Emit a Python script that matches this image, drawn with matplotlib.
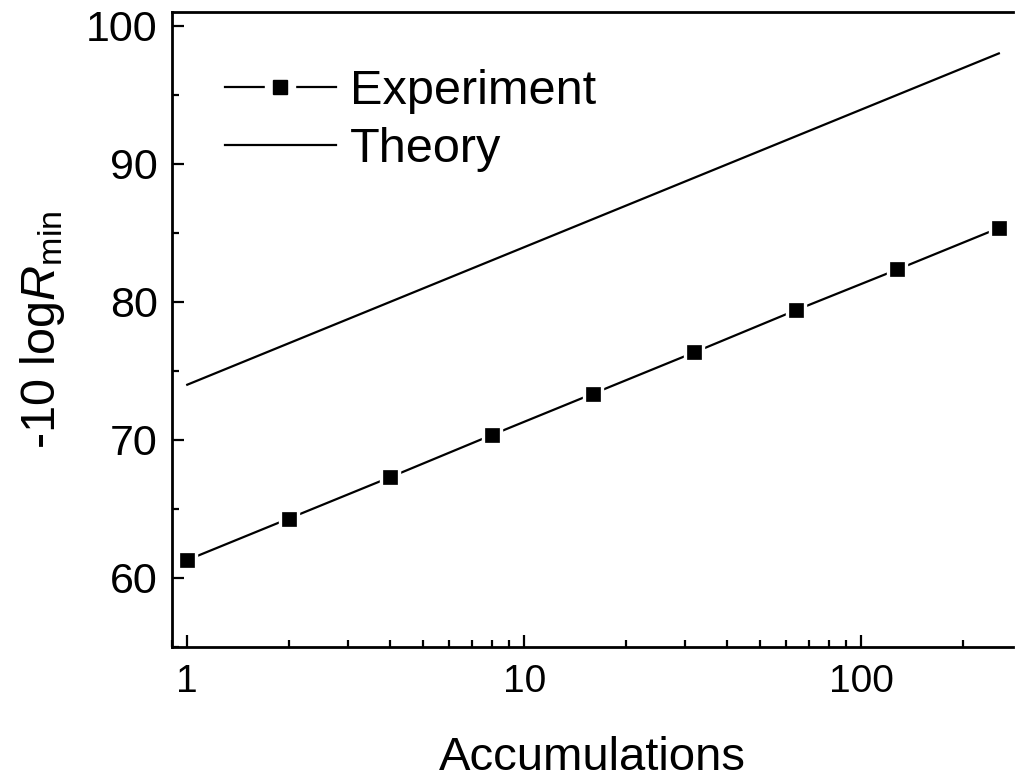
import matplotlib
matplotlib.use("Agg")
import matplotlib.pyplot as plt
from matplotlib.lines import Line2D
from matplotlib.ticker import FixedLocator, MultipleLocator, LogLocator, NullFormatter

plt.rcParams['font.family'] = ['Liberation Sans', 'DejaVu Sans']
plt.rcParams['mathtext.fontset'] = 'custom'
plt.rcParams['mathtext.rm'] = 'Liberation Sans'
plt.rcParams['mathtext.it'] = 'Liberation Sans:italic'

# Data
accumulations = [1, 2, 4, 8, 16, 32, 64, 128, 256]
experiment = [61.3, 64.3, 67.3, 70.35, 73.35, 76.35, 79.4, 82.35, 85.35]
theory_x = [1, 256]
theory = [74.0, 98.0]
x_ticks = [1, 10, 100]
x_ticklabels = ['1', '10', '100']
y_ticks = [60, 70, 80, 90, 100]

fig = plt.figure(figsize=(10.15, 7.8), dpi=100)
ax = fig.add_axes([171.5/1015, 1-647/780, (1013-171.5)/1015, (647-12)/780])

lw = 1.6
ax.plot(theory_x, theory, color='black', lw=lw, zorder=2)
ax.plot(accumulations, experiment, color='black', lw=lw, zorder=2)
ax.plot(accumulations, experiment, ls='none', marker='s', ms=14, mfc='white', mec='white', zorder=3)
ax.plot(accumulations, experiment, ls='none', marker='s', ms=9.5, mfc='black', mec='black', mew=0.5, zorder=4)

ax.set_xscale('log')
ax.set_xlim(0.898, 282)
ax.set_ylim(55, 101)
ax.xaxis.set_major_locator(FixedLocator(x_ticks))
ax.set_xticklabels(x_ticklabels)
ax.xaxis.set_minor_locator(LogLocator(base=10, subs=range(2, 10)))
ax.xaxis.set_minor_formatter(NullFormatter())
ax.yaxis.set_major_locator(FixedLocator(y_ticks))
ax.yaxis.set_minor_locator(MultipleLocator(5))

for s in ['left', 'bottom', 'top']:
    ax.spines[s].set_linewidth(2.0)
ax.spines['right'].set_visible(False)

ax.tick_params(which='both', direction='in', top=False, right=False, width=1.6)
ax.tick_params(which='major', length=8.6)
ax.tick_params(which='minor', length=5)
ax.tick_params(axis='x', which='major', pad=12, labelsize=28)
ax.tick_params(axis='y', which='major', pad=10, labelsize=31)

ax.set_xlabel('Accumulations', fontsize=34, labelpad=26)
ax.set_ylabel('-10 log$\\mathit{R}_{\\mathrm{min}}$', fontsize=35, labelpad=14)

h_line = Line2D([], [], color='black', lw=lw)
h_white = Line2D([], [], ls='none', marker='s', ms=22, mfc='white', mec='white')
h_black = Line2D([], [], ls='none', marker='s', ms=9.5, mfc='black', mec='black')
h_theory = Line2D([], [], color='black', lw=lw)
ax.legend([(h_line, h_white, h_black), h_theory], ['Experiment', 'Theory'],
          loc='upper left', bbox_to_anchor=(0.0636, 0.910), frameon=False,
          fontsize=35, handlelength=2.28, handletextpad=0.29, labelspacing=0.26,
          borderpad=0, borderaxespad=0)

fig.savefig('out.png', dpi=100)
